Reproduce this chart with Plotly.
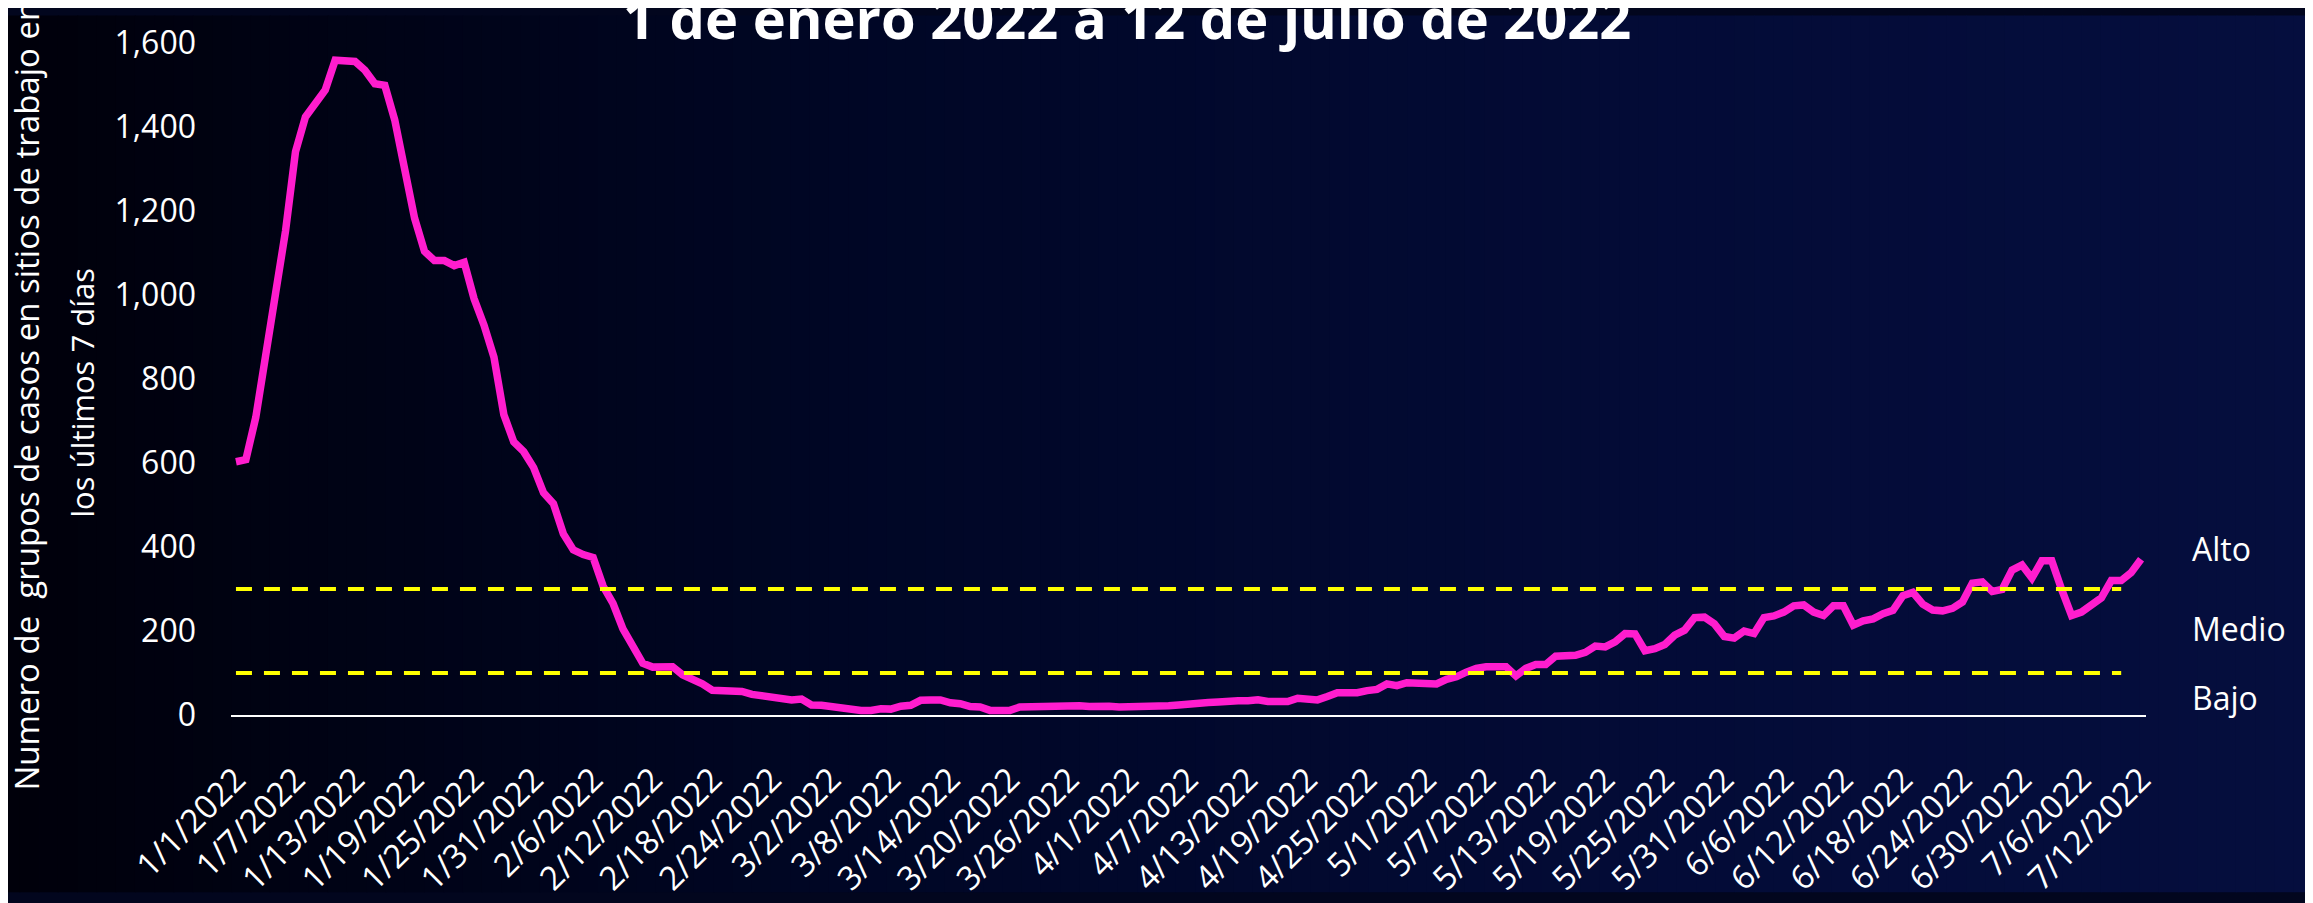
import pandas as pd
import plotly.graph_objects as go

# ---------------- data ----------------
start_date = "2022-01-01"
n_days = 193
dates = [f"{d.month}/{d.day}/{d.year}" for d in pd.date_range(start_date, periods=n_days, freq="D")]

cases = [603, 608, 709, 845, 1005, 1153, 1341, 1424, 1454, 1488,
         1559, 1558, 1556, 1535, 1503, 1499, 1417, 1300, 1183, 1104,
         1082, 1082, 1070, 1078, 991, 928, 852, 715, 650, 627,
         589, 529, 503, 431, 393, 382, 375, 307, 266, 205,
         162, 123, 114, 115, 115, 96, 86, 74, 59, 58,
         57, 56, 49, 45, 40, 36, 36, 38, 24, 23,
         20, 16, 12, 11, 11, 15, 14, 21, 23, 35,
         36, 36, 29, 27, 20, 19, 11, 11, 11, 19,
         20, 21, 23, 23, 23, 22, 20, 22, 21, 19,
         19, 19, 19, 19, 22, 24, 27, 29, 30, 31,
         34, 34, 34, 36, 32, 32, 32, 40, 40, 36,
         44, 53, 53, 53, 58, 61, 74, 70, 77, 77,
         77, 74, 85, 91, 102, 111, 115, 115, 115, 93,
         111, 120, 120, 140, 141, 142, 149, 164, 162, 174,
         194, 193, 153, 158, 168, 190, 202, 232, 233, 217,
         187, 183, 200, 194, 232, 236, 245, 260, 262, 245,
         237, 260, 260, 214, 224, 229, 241, 249, 284, 292,
         264, 250, 248, 254, 269, 314, 317, 294, 299, 345,
         357, 326, 367, 367, 299, 237, 245, 262, 279, 320,
         320, 339, 371]

thresholds = [100, 300]
threshold_end_date = "7/10/2022"
level_labels = ["Alto", "Medio", "Bajo"]
level_label_values = [396, 206, 41]

tick_labels = dates[::6]
y_ticks = [0, 200, 400, 600, 800, 1000, 1200, 1400, 1600]

title_text = "1 de enero 2022 a 12 de julio de 2022"
ytitle_line1 = "Numero de  grupos de casos en sitios de trabajo en"
ytitle_line2 = "los últimos 7 días"

# ---------------- layout geometry ----------------
W, H = 2313, 903
OFF = 8                          # page body margin offset of the figure
L, R, T, B = 231, 167, 22, 172   # plot box in screen pixels
PW, PH = W - L - R, H - T - B

FONT = "Open Sans"

bg_stops = [(0.0, (0, 0, 10)), (0.35, (0, 6, 36)), (0.7, (3, 11, 54)), (1.0, (5, 14, 62))]


def bg_color(t):
    for k in range(len(bg_stops) - 1):
        t0, c0 = bg_stops[k]
        t1, c1 = bg_stops[k + 1]
        if t0 <= t <= t1:
            f = (t - t0) / (t1 - t0)
            c = [round(c0[j] + (c1[j] - c0[j]) * f) for j in range(3)]
            return f"rgb({c[0]},{c[1]},{c[2]})"
    c = bg_stops[-1][1]
    return f"rgb({c[0]},{c[1]},{c[2]})"


n_strips = 120
shapes = []
for s in range(n_strips):
    px0 = W * s / n_strips
    px1 = W * (s + 1) / n_strips + 1
    shapes.append(dict(
        type="rect", xref="paper", yref="paper",
        x0=(px0 - L) / PW, x1=(px1 - L) / PW,
        y0=-(B + OFF) / PH - 0.01, y1=1 + T / PH + 0.01,
        line=dict(width=0), fillcolor=bg_color((s + 0.5) / n_strips),
        layer="below",
    ))

fig = go.Figure()

fig.add_trace(go.Scatter(
    x=dates, y=cases, mode="lines",
    line=dict(color="#FF1DCE", width=7.5),
    hoverinfo="skip", showlegend=False,
))

end_idx = dates.index(threshold_end_date)
for t in thresholds:
    fig.add_trace(go.Scatter(
        x=[dates[0], dates[end_idx]], y=[t, t], mode="lines",
        line=dict(color="#FFFF00", width=4, dash="16px,12px"),
        hoverinfo="skip", showlegend=False,
    ))

fig.update_layout(
    width=W, height=H, autosize=False,
    margin=dict(l=L - OFF, r=R + OFF, t=T - OFF, b=B + OFF, pad=0),
    paper_bgcolor="#02061e",
    plot_bgcolor="rgba(0,0,0,0)",
    font=dict(family=FONT, color="white", size=32),
    showlegend=False,
    shapes=shapes,
)

fig.update_xaxes(
    type="category",
    range=[-0.5, n_days - 0.5],
    tickmode="array", tickvals=tick_labels, ticktext=tick_labels,
    tickangle=-45,
    tickfont=dict(family=FONT, size=33, color="white"),
    showgrid=False, zeroline=False,
    showline=True, linecolor="white", linewidth=2,
    ticks="", ticklabelstandoff=30,
)

fig.update_yaxes(
    range=[0, 1600],
    tickmode="array", tickvals=y_ticks,
    ticktext=[f"{v:,}" for v in y_ticks],
    tickfont=dict(family=FONT, size=32, color="white"),
    showgrid=False, zeroline=False, showline=False,
    ticks="", ticklabelstandoff=34,
    ticklabeloverflow="allow",
)

annotations = [
    dict(text=f"<b>{title_text}</b>", xref="paper", yref="paper",
         x=(1127 - L) / PW, y=1 - 15 / PH, xanchor="center", yanchor="bottom",
         showarrow=False, font=dict(family=FONT, size=56, color="white")),
    dict(text=ytitle_line1, xref="paper", yref="paper",
         x=(27 - L) / PW, y=1 - (394 - T) / PH, xanchor="center", yanchor="middle",
         textangle=-90, showarrow=False, font=dict(family=FONT, size=33, color="white")),
    dict(text=ytitle_line2, xref="paper", yref="paper",
         x=(82 - L) / PW, y=1 - (391 - T) / PH, xanchor="center", yanchor="middle",
         textangle=-90, showarrow=False, font=dict(family=FONT, size=31, color="white")),
]
for lab, val in zip(level_labels, level_label_values):
    annotations.append(dict(
        text=lab, xref="paper", yref="y", x=(2190 - L) / PW, y=val,
        xanchor="left", yanchor="middle", showarrow=False,
        font=dict(family=FONT, size=32, color="white")))
fig.update_layout(annotations=annotations)

fig.write_html("out.html")
